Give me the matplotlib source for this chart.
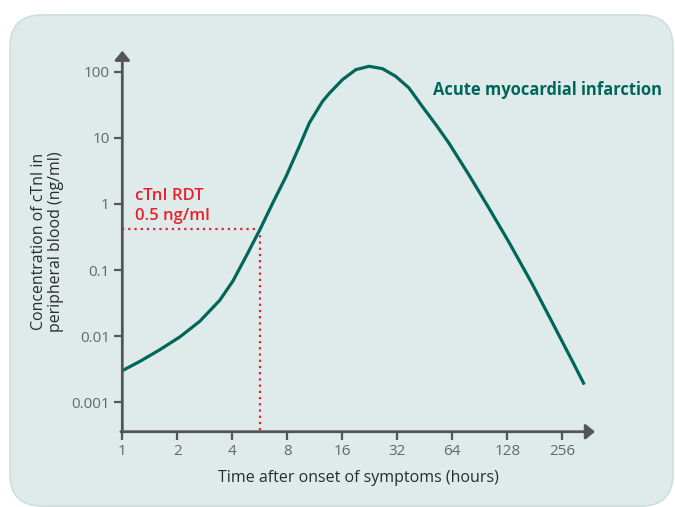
import matplotlib
matplotlib.use('Agg')
import matplotlib.pyplot as plt
from matplotlib.patches import FancyBboxPatch

plt.rcParams['font.family'] = ['Open Sans', 'DejaVu Sans']

#%% Data
hours = [1.00, 1.249, 1.606, 2.064, 2.653, 3.411, 4.030, 4.866, 5.686, 6.661,
         7.881, 9.313, 10.56, 12.48, 13.57, 16.04, 18.98, 22.43, 26.51, 31.36,
         37.06, 43.80, 52.88, 61.26, 78.74, 101.2, 130.1, 174.3, 224.1, 288.1, 337.9]
ctni = [0.00301, 0.00416, 0.00625, 0.00973, 0.01675, 0.0348, 0.0682, 0.1814, 0.418,
        1.035, 2.615, 7.44, 16.8, 35.7, 47.0, 76.0, 107.6, 120.7, 111.4, 85.2,
        56.9, 30.0, 14.9, 8.37, 2.78, 0.88, 0.27, 0.0633, 0.01675, 0.0044, 0.00185]

x_ticks = [1, 2, 4, 8, 16, 32, 64, 128, 256]
x_ticklabels = ['1', '2', '4', '8', '16', '32', '64', '128', '256']
y_ticks = [0.001, 0.01, 0.1, 1, 10, 100]
y_ticklabels = ['0.001', '0.01', '0.1', '1', '10', '100']

rdt_hours = 5.686   # where the curve crosses the detection limit
rdt_level = 0.418

curve_color = '#00665a'
red = '#e8212b'
axis_color = '#555555'

#%% Figure
fig = plt.figure(figsize=(6.75, 5.07), dpi=100)
panel = FancyBboxPatch((0.10, 0.01), 6.63, 4.91, boxstyle='round,pad=0,rounding_size=0.32',
                       transform=fig.dpi_scale_trans, facecolor='#deebea',
                       edgecolor='#cddfdc', linewidth=1.2, zorder=-10)
fig.add_artist(panel)

ax = fig.add_axes([0.1812, 0.1485, 0.7003, 0.7515])
ax.set_facecolor('none')
ax.set_xscale('log', base=2)
ax.set_yscale('log')
ax.set_xlim(1, 2 ** 8.595)
ax.set_ylim(10 ** -3.445, 10 ** 2.318)

ax.plot(hours, ctni, color=curve_color, lw=2.3, solid_capstyle='butt',
        solid_joinstyle='round', zorder=3)

# detection limit guide lines
ax.plot([1, rdt_hours], [rdt_level, rdt_level], color=red, lw=1.6, ls=(0, (1, 1.8)),
        zorder=2, clip_on=False)
ax.plot([rdt_hours, rdt_hours], [rdt_level, 10 ** -3.445], color=red, lw=1.6,
        ls=(0, (1, 1.8)), zorder=2, clip_on=False)

ax.text(0.027, 0.608, 'cTnI RDT', transform=ax.transAxes, color=red, fontsize=12,
        fontweight='semibold', va='baseline')
ax.text(0.027, 0.556, '0.5 ng/ml', transform=ax.transAxes, color=red, fontsize=12,
        fontweight='semibold', va='baseline')
ax.text(0.657, 0.884, 'Acute myocardial infarction', transform=ax.transAxes,
        color=curve_color, fontsize=11.9, fontweight='bold', va='baseline')

# axes drawn as arrows
for s in ax.spines.values():
    s.set_visible(False)
ax.annotate('', xy=(1.0, 0), xytext=(-0.003, 0), xycoords='axes fraction',
            arrowprops=dict(arrowstyle='-|>,head_length=0.55,head_width=0.45',
                            color=axis_color, lw=2, shrinkA=0, shrinkB=0))
ax.annotate('', xy=(0, 1.0), xytext=(0, -0.003), xycoords='axes fraction',
            arrowprops=dict(arrowstyle='-|>,head_length=0.55,head_width=0.45',
                            color=axis_color, lw=2, shrinkA=0, shrinkB=0))

ax.set_xticks(x_ticks)
ax.set_xticklabels(x_ticklabels)
ax.set_yticks(y_ticks)
ax.set_yticklabels(y_ticklabels)
ax.minorticks_off()
ax.tick_params(axis='both', direction='out', length=6, width=1.6, color=axis_color,
               labelcolor='#666666', labelsize=11, pad=3)

ax.set_xlabel('Time after onset of symptoms (hours)', fontsize=11.5, color='#2b2b2b',
              labelpad=8)
ax.set_ylabel('Concentration of cTnI in\nperipheral blood (ng/ml)', fontsize=11.4,
              color='#2b2b2b', labelpad=5, linespacing=1.1)

fig.savefig('out.png', dpi=100)
